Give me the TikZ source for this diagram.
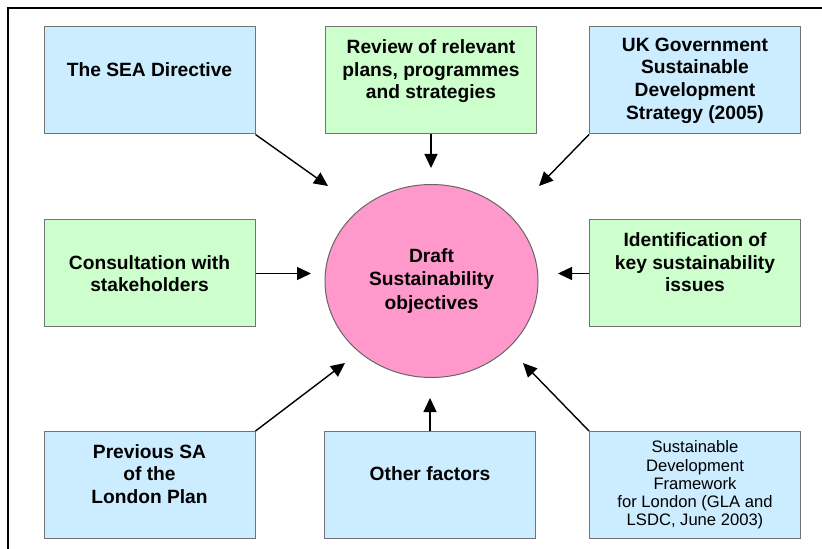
\documentclass[tikz,border=0pt]{standalone}
\usepackage{fontspec}
\setmainfont{Liberation Sans}
\usetikzlibrary{shapes.geometric,arrows.meta}

\definecolor{boxblue}{RGB}{204,236,255}
\definecolor{boxgreen}{RGB}{204,255,204}
\definecolor{objpink}{RGB}{255,153,204}

\begin{document}
\begin{tikzpicture}[x=0.5pt,y=-0.5pt,>={Triangle[length=7pt,width=6.5pt]},line width=0.7pt,
  box/.style={draw=black!55,line width=0.5pt,minimum width=105.5pt,minimum height=53.5pt,
    align=center,font=\fontsize{9.6}{11.3}\selectfont\bfseries},
  bluebox/.style={box,fill=boxblue},
  greenbox/.style={box,fill=boxgreen}]
\useasboundingbox (0,0) rectangle (822,549);
\draw[line width=1pt] (8,549) |- (822,8);

\node[ellipse,draw=black!60,line width=0.5pt,fill=objpink,minimum width=106.5pt,minimum height=96.5pt,
  align=center,font=\fontsize{9.6}{11.8}\selectfont\bfseries] (obj) at (431.5,281) {Draft\\Sustainability\\objectives};

\node[bluebox] (sea) at (149.5,80.5) {The SEA Directive\\ \null};
\node[greenbox] (review) at (431,80.5) {Review of relevant\\plans, programmes\\and strategies\\ \null};
\node[bluebox] (ukgov) at (695,80.5) {UK Government\\Sustainable\\Development\\Strategy (2005)};
\node[greenbox] (consult) at (149.5,273.5) {Consultation with\\stakeholders};
\node[greenbox] (ident) at (695,273.5) {Identification of\\key sustainability\\issues\\ \null};
\node[bluebox] (prevsa) at (149.5,485) {Previous SA\\of the\\London Plan\\ \null};
\node[bluebox] (other) at (430,485) {Other factors\\ \null};
\node[bluebox,font=\fontsize{8.3}{9.1}\selectfont] (sdf) at (695,485)
  {Sustainable\\Development\\Framework\\for London (GLA and\\LSDC, June 2003)};

\coordinate (seaTip) at (328,186);
\coordinate (reviewTip) at (431,168);
\coordinate (ukgovTip) at (539,186);
\coordinate (consultTip) at (311,273.5);
\coordinate (identTip) at (558,273.5);
\coordinate (prevsaTip) at (345,363);
\coordinate (otherTip) at (430,398);
\coordinate (sdfTip) at (523,363);

\path[->] (sea.south east) edge (seaTip)
(review.south) edge (reviewTip)
(ukgov.south west) edge (ukgovTip)
(consult.east) edge (consultTip)
(ident.west) edge (identTip)
(prevsa.north east) edge (prevsaTip)
(other.north) edge (otherTip)
(sdf.north west) edge (sdfTip);
\end{tikzpicture}
\end{document}
